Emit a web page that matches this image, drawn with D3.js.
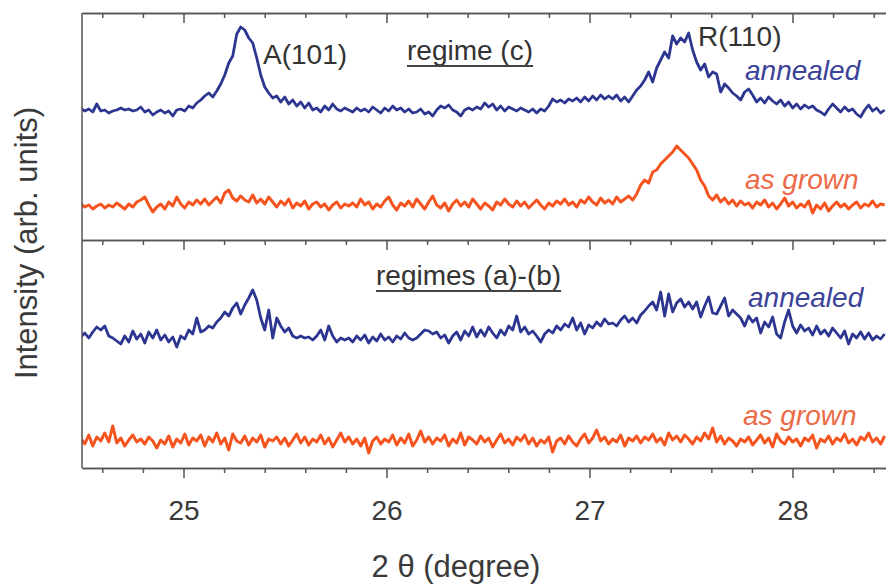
<!DOCTYPE html>
<html>
<head>
<meta charset="utf-8">
<script src="https://cdn.jsdelivr.net/npm/d3@7"></script>
<style>
  body { margin: 0; background: #fff; }
  svg text { font-family: "Liberation Sans", Arial, sans-serif; }
</style>
</head>
<body>
<svg id="xrd-svg" width="886" height="584"></svg>
<script>
// scan grid (2 theta, degree)
const THETA_START = 24.494;
const THETA_STEP = 0.0197;

// regime (c), arb. units
const TOP_ANNEALED = [
    132,129,131,128,136,129,130,127,129,130,
    132,130,131,129,130,133,128,130,125,128,
    130,127,129,124,130,131,129,134,132,137,
    140,144,147,143,149,156,165,177,184,206,
    213,210,202,197,182,165,153,147,142,144,
    138,143,136,140,134,138,132,137,130,132,
    128,134,130,136,131,129,132,130,128,132,
    129,131,128,133,130,127,132,129,134,130,
    132,128,131,127,128,131,126,128,124,130,
    134,132,135,130,128,124,130,132,130,133,
    131,137,133,136,130,134,129,133,131,129,
    132,130,128,131,127,131,129,134,141,138,
    140,137,141,139,142,138,143,139,144,140,
    145,141,144,141,145,139,143,138,144,150,
    154,160,168,158,172,180,188,182,204,196,
    202,198,207,190,178,170,176,163,168,166,
    148,156,152,147,144,140,148,151,145,138,
    142,137,143,139,136,140,134,138,132,136,
    131,135,132,134,130,128,125,131,136,132,
    128,133,129,131,126,123,130,135,129,132,127,130
];
const TOP_AS_GROWN = [
    36,33,35,31,34,36,32,35,33,37,
    34,31,36,33,38,40,43,35,28,33,
    36,31,38,34,43,36,32,38,35,40,
    36,41,35,39,43,37,47,50,42,39,
    44,40,38,45,37,41,36,43,38,33,
    39,35,41,32,37,34,39,31,36,38,
    33,36,30,35,38,32,36,34,37,33,
    41,35,38,31,36,33,39,43,35,30,
    37,34,39,33,41,36,31,38,44,35,
    32,37,29,36,40,34,38,33,41,36,
    31,37,34,30,38,35,41,36,33,39,
    34,38,32,36,40,35,31,37,34,39,
    36,41,35,38,33,40,37,43,38,35,
    42,37,40,36,43,38,41,44,40,46,
    55,60,57,68,70,76,80,84,88,94,
    90,86,82,76,70,60,54,44,40,45,
    38,42,36,40,34,39,35,37,32,38,
    35,40,33,37,31,36,42,34,38,32,
    36,33,39,27,35,31,37,29,34,38,
    33,36,31,35,38,32,36,34,39,33,36,35
];

// regimes (a)-(b), arb. units
const BOTTOM_ANNEALED = [
    131,135,130,136,141,138,142,132,130,127,
    124,132,126,137,129,134,125,136,130,138,
    128,133,126,131,121,132,129,138,134,150,
    136,138,142,140,146,150,156,152,160,165,
    154,163,170,178,168,150,138,158,130,150,
    142,136,140,132,130,132,130,131,128,132,
    138,128,142,132,126,130,128,130,126,132,
    128,133,125,131,127,134,128,131,126,132,
    129,135,130,128,130,134,138,137,134,136,
    130,133,125,132,136,128,137,132,141,131,
    138,132,141,135,130,138,133,142,138,152,
    136,141,134,137,132,126,134,138,135,142,
    138,144,141,150,138,145,134,143,140,146,
    142,149,144,145,142,148,152,146,150,145,
    153,157,162,166,158,176,152,174,156,165,
    169,161,166,159,166,151,162,171,155,154,
    162,170,152,158,154,150,142,152,146,150,
    135,146,141,151,134,130,146,158,142,135,
    143,137,140,133,142,134,138,132,140,135,
    130,137,124,134,130,136,129,135,128,132,129,134
];
const BOTTOM_AS_GROWN = [
    30,24,33,22,31,27,35,26,42,25,
    30,22,28,33,26,29,24,31,27,20,
    28,24,32,21,29,25,34,23,30,27,
    33,22,31,26,35,24,30,18,34,27,
    25,32,23,30,26,33,21,29,27,31,
    24,30,22,28,34,25,31,23,29,26,
    33,24,30,21,28,35,26,31,24,29,
    22,30,15,27,31,24,29,26,33,23,
    30,25,34,22,28,37,26,31,24,30,
    27,33,22,29,25,35,23,31,28,24,
    32,26,30,21,28,34,25,29,23,31,
    27,33,24,30,22,28,25,31,16,27,
    30,24,32,26,22,29,34,25,30,38,
    27,31,24,29,26,33,22,30,27,32,
    25,31,28,34,26,30,23,35,28,32,
    26,33,29,24,31,27,35,29,40,26,
    32,24,30,27,22,29,26,31,23,28,
    33,25,30,21,34,27,24,31,26,29,
    22,30,27,33,20,29,26,32,24,30,
    27,34,25,29,23,31,28,35,26,30,24,32
];

const MAJOR_TICKS = [25, 26, 27, 28];
const MINOR_TICKS = [24.6, 24.8, 25.2, 25.4, 25.6, 25.8, 26.2, 26.4, 26.6, 26.8,
                     27.2, 27.4, 27.6, 27.8, 28.2, 28.4];

const THETA = TOP_ANNEALED.map((_, i) => THETA_START + i * THETA_STEP);

const BLUE = '#2c3590';
const ORANGE = '#f5541f';
const FRAME = '#555';

const SVG = d3.select('#xrd-svg');

const X = d3.scaleLinear().domain([24.5, 28.5]).range([82, 894]);
const Y_TOP = d3.scaleLinear().domain([0, 227]).range([240, 13]);
const Y_BOTTOM = d3.scaleLinear().domain([0, 228]).range([468, 240]);

SVG.append('clipPath').attr('id', 'plot-clip')
    .append('rect')
    .attr('x', 82).attr('y', 13)
    .attr('width', 812).attr('height', 455);

// curves
const CURVES = [
    {values: TOP_ANNEALED, y: Y_TOP, color: BLUE, width: 2.8},
    {values: TOP_AS_GROWN, y: Y_TOP, color: ORANGE, width: 3},
    {values: BOTTOM_ANNEALED, y: Y_BOTTOM, color: BLUE, width: 2.8},
    {values: BOTTOM_AS_GROWN, y: Y_BOTTOM, color: ORANGE, width: 3}
];

SVG.append('g')
    .attr('clip-path', 'url(#plot-clip)')
    .selectAll('.xrd-curve')
    .data(CURVES)
    .enter()
    .append('path')
    .attr('class', 'xrd-curve')
    .attr('fill', 'none')
    .attr('stroke', d => d.color)
    .attr('stroke-width', d => d.width)
    .attr('stroke-linejoin', 'round')
    .attr('d', d => d3.line()
        .x((v, i) => X(THETA[i]))
        .y(v => d.y(v))(d.values));

// horizontal frame lines, all with ticks pointing down
function drawTickLine(yPos, withLabels) {
    const g = SVG.append('g')
        .attr('transform', `translate(0,${yPos})`)
        .attr('color', FRAME);
    g.append('g').call(d3.axisBottom(X).tickValues(MINOR_TICKS)
        .tickSize(5).tickSizeOuter(0).tickFormat(''));
    const major = g.append('g').call(d3.axisBottom(X).tickValues(MAJOR_TICKS)
        .tickSize(10).tickSizeOuter(0).tickPadding(22)
        .tickFormat(withLabels ? d3.format('d') : ''));
    g.selectAll('path, line').attr('stroke-width', 1.5);
    major.selectAll('text')
        .attr('font-size', 28)
        .attr('font-family', '"Liberation Sans", Arial, sans-serif')
        .attr('fill', '#3a3a3a');
}
drawTickLine(13, false);
drawTickLine(240, false);
drawTickLine(468, true);

// left frame
SVG.append('line')
    .attr('x1', 82).attr('x2', 82)
    .attr('y1', 13).attr('y2', 468)
    .attr('stroke', FRAME)
    .attr('stroke-width', 1.5);

// annotations
const LABELS = [
    {text: 'A(101)', x: 263, y: 64, color: '#333', italic: false, under: false},
    {text: 'regime (c)', x: 407, y: 60, color: '#333', italic: false, under: true},
    {text: 'R(110)', x: 698, y: 46, color: '#333', italic: false, under: false},
    {text: 'annealed', x: 745, y: 80, color: '#3b4399', italic: true, under: false},
    {text: 'as grown', x: 745, y: 189, color: '#ec6a48', italic: true, under: false},
    {text: 'regimes (a)-(b)', x: 376, y: 285, color: '#333', italic: false, under: true},
    {text: 'annealed', x: 748, y: 307, color: '#3b4399', italic: true, under: false},
    {text: 'as grown', x: 743, y: 425, color: '#ec6a48', italic: true, under: false}
];

const LABEL_TEXTS = SVG.selectAll('.xrd-label')
    .data(LABELS)
    .enter()
    .append('text')
    .attr('class', 'xrd-label')
    .attr('x', d => d.x)
    .attr('y', d => d.y)
    .attr('font-size', 28)
    .attr('font-style', d => d.italic ? 'italic' : 'normal')
    .attr('fill', d => d.color)
    .text(d => d.text);

// solid underline under the regime titles
LABEL_TEXTS.filter(d => d.under).each(function (d) {
    const w = this.getComputedTextLength();
    SVG.append('line')
        .attr('x1', d.x).attr('x2', d.x + w)
        .attr('y1', d.y + 6).attr('y2', d.y + 6)
        .attr('stroke', '#444')
        .attr('stroke-width', 1.8);
});

// axis titles
SVG.append('text')
    .attr('x', 456).attr('y', 577)
    .attr('text-anchor', 'middle')
    .attr('font-size', 31)
    .attr('fill', '#3a3a3a')
    .text('2 θ (degree)');

SVG.append('text')
    .attr('transform', 'translate(37,243) rotate(-90)')
    .attr('text-anchor', 'middle')
    .attr('font-size', 31)
    .attr('fill', '#3a3a3a')
    .text('Intensity (arb. units)');
</script>
</body>
</html>
